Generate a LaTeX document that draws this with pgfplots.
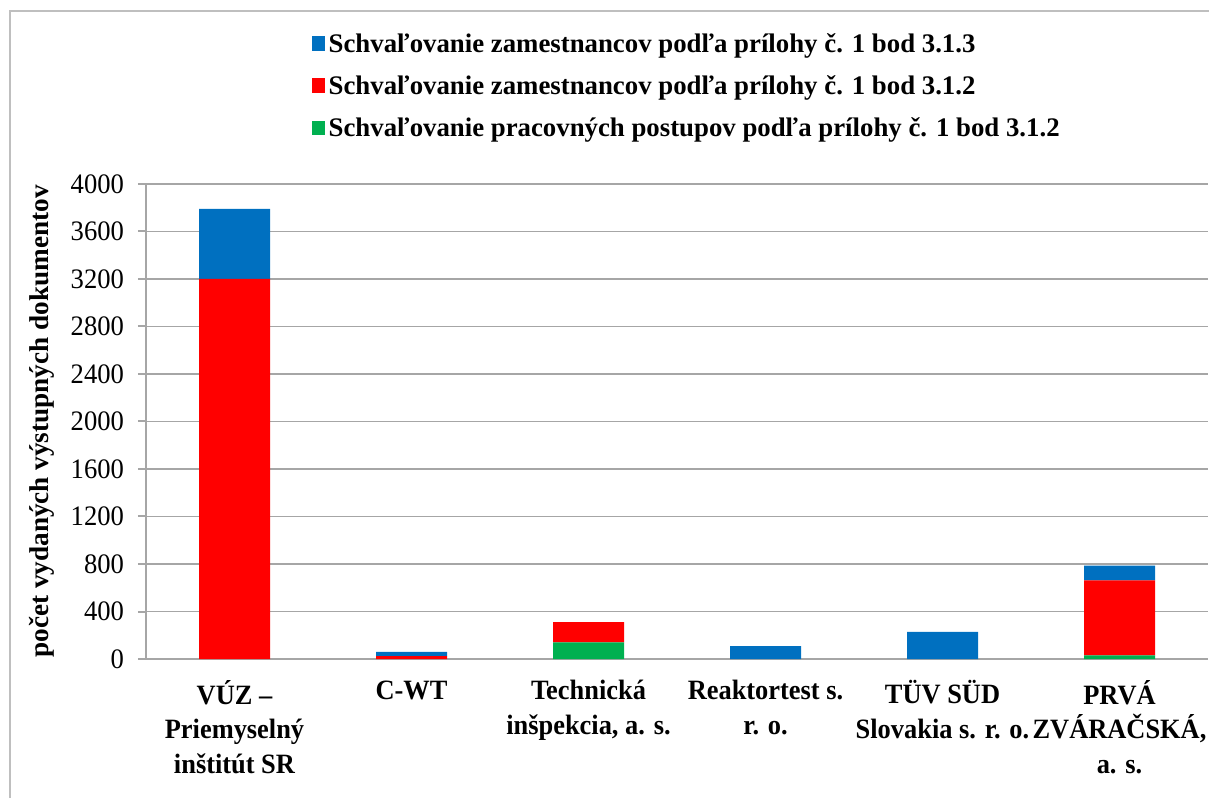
\documentclass[border=0pt]{standalone}
\usepackage{pgfplots}
\pgfplotsset{compat=1.18}
\usepackage{fontspec}
\setmainfont{Liberation Serif}
\definecolor{cblue}{HTML}{0070C0}
\definecolor{cred}{HTML}{FF0000}
\definecolor{cgreen}{HTML}{00B050}
\definecolor{cgrid}{HTML}{A6A6A6}
\definecolor{cframe}{HTML}{BFBFBF}
\begin{document}
\begin{tikzpicture}[x=0.5pt,y=0.5pt]
\useasboundingbox (0,0) rectangle (1209,798);
\draw[cframe,line width=1pt] (10,0) -- (10,787) -- (1209,787);
\begin{axis}[
  at={(73pt,69.5pt)}, anchor=south west,
  scale only axis, width=531pt, height=237.5pt,
  ybar stacked, bar width=35.5pt,
  xmin=-0.5, xmax=5.5, ymin=0, ymax=4000,
  ytick={0,400,...,4000},
  xtick={0,...,5},
  xticklabels={{V\'UZ --\\Priemyselný\\inštitút SR},{C-WT},{Technická\\inšpekcia, a. s.},{Reaktortest s.\\r. o.},{TÜV SÜD\\Slovakia s. r. o.},{PRVÁ\\ZVÁRAČSKÁ,\\a. s.}},
  x tick style={draw=none},
  extra x ticks={-0.5,0.5,...,5.5},
  extra x tick labels={},
  extra x tick style={grid=none, major tick length=4pt, tick style={cgrid,line width=1pt}},
  tick align=outside,
  major tick length=4pt,
  y tick style={cgrid,line width=1pt},
  axis lines*=left,
  axis line style={cgrid,line width=1pt,-},
  ymajorgrids, grid style={cgrid,line width=0.8pt},
  /pgf/number format/assume math mode=true,
  /pgf/number format/1000 sep={},
  yticklabel style={font=\fontsize{13.3}{15}\selectfont, xshift=-3.5pt, yscale=1.06},
  xticklabel style={font=\fontsize{13.2}{16.2}\selectfont\bfseries, align=center, anchor=north, yshift=-3pt, yscale=1.06},
  ylabel={počet vydaných výstupných dokumentov},
  ylabel style={font=\fontsize{13.6}{15}\selectfont\bfseries, at={(axis description cs:-0.098,0.5)}, anchor=center},
  legend style={at={(axis description cs:0.15,1.335)}, anchor=north west, draw=none, fill=none,
    font=\fontsize{13.4}{15}\selectfont\bfseries, row sep=6.2pt, cells={anchor=west, yscale=1.06}},
  legend image code/.code={\fill[#1] (0pt,-3pt) rectangle (6.5pt,3.8pt);},
  reverse legend,
]
\addplot[fill=cgreen, draw=none] coordinates {(0,0) (1,0) (2,140) (3,0) (4,0) (5,30)};
\addplot[fill=cred, draw=none] coordinates {(0,3200) (1,25) (2,170) (3,0) (4,0) (5,633)};
\addplot[fill=cblue, draw=none] coordinates {(0,590) (1,35) (2,0) (3,108) (4,228) (5,123)};
\legend{Schvaľovanie pracovných postupov podľa prílohy č. 1 bod 3.1.2,
        Schvaľovanie zamestnancov podľa prílohy č. 1 bod 3.1.2,
        Schvaľovanie zamestnancov podľa prílohy č. 1 bod 3.1.3}
\end{axis}
\end{tikzpicture}
\end{document}
